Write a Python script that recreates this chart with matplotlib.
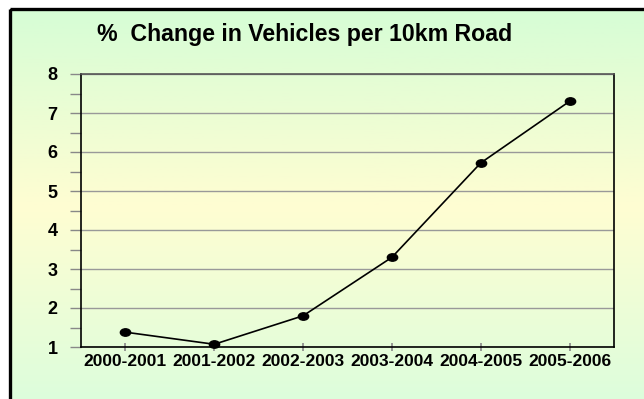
import numpy as np
import matplotlib
matplotlib.use("Agg")
import matplotlib.pyplot as plt
from matplotlib.colors import LinearSegmentedColormap
from matplotlib.patches import Rectangle
from matplotlib.ticker import MultipleLocator
from matplotlib.markers import MarkerStyle
from matplotlib.transforms import Affine2D

periods = ["2000-2001", "2001-2002", "2002-2003", "2003-2004", "2004-2005", "2005-2006"]
pct_change = [1.38, 1.07, 1.80, 3.30, 5.72, 7.30]
y_ticks = [1, 2, 3, 4, 5, 6, 7, 8]

W, H = 644, 399
fig = plt.figure(figsize=(W / 100, H / 100), dpi=100)
fig.patch.set_facecolor("white")

# gradient background panel inside the frame
bg = fig.add_axes([0, 0, 1, 1], zorder=-10)
bg.set_xlim(0, W)
bg.set_ylim(H, 0)
bg.axis("off")
cmap = LinearSegmentedColormap.from_list(
    "panel", [(0.0, "#d6fdd6"), (0.5, "#fffdd2"), (1.0, "#dcfedc")])
grad = np.linspace(0, 1, 256).reshape(-1, 1)
bg.imshow(grad, cmap=cmap, aspect="auto", extent=[10, W + 5, H + 5, 9], zorder=0)
bg.add_patch(Rectangle((10, 9), W, H, fill=False, edgecolor="black", linewidth=2.4, zorder=1))

ax = fig.add_axes([81 / W, 1 - 347 / H, (614 - 81) / W, (347 - 74) / H])
ax.patch.set_alpha(0)
x = np.arange(len(periods))
ax.plot(x, pct_change, color="black", linewidth=1.2, zorder=3)
oval = MarkerStyle("o").get_path().transformed(Affine2D().scale(1.25, 0.9))
ax.scatter(x, pct_change, s=55, marker=oval, color="black", zorder=4, clip_on=False)

ax.set_xlim(-0.5, len(periods) - 0.5)
ax.set_ylim(1, 8)
ax.set_yticks(y_ticks)
ax.yaxis.set_minor_locator(MultipleLocator(0.5))
ax.set_xticks(x)
ax.set_xticklabels(periods)
ax.grid(axis="y", color="#999999", linewidth=1.0)
ax.set_axisbelow(True)

for side in ["left", "right", "top", "bottom"]:
    ax.spines[side].set_color("black")
    ax.spines[side].set_linewidth(1.2)
ax.spines["top"].set_color("#555555")

ax.tick_params(axis="y", which="major", length=8, width=1, color="#888888",
               pad=9, labelsize=13)
ax.tick_params(axis="y", which="minor", length=8, width=1, color="#888888")
ax.tick_params(axis="x", length=6, width=1.2, color="#888888", direction="inout",
               pad=2, labelsize=12.5)
for lab in ax.get_xticklabels() + ax.get_yticklabels():
    lab.set_fontfamily("Liberation Sans")
    lab.set_fontweight("bold")

fig.text(305 / W, 1 - 35 / H, "%  Change in Vehicles per 10km Road", ha="center", va="center",
         fontsize=16.7, fontweight="bold", fontfamily="Liberation Sans")

fig.savefig("out.png", dpi=100)
